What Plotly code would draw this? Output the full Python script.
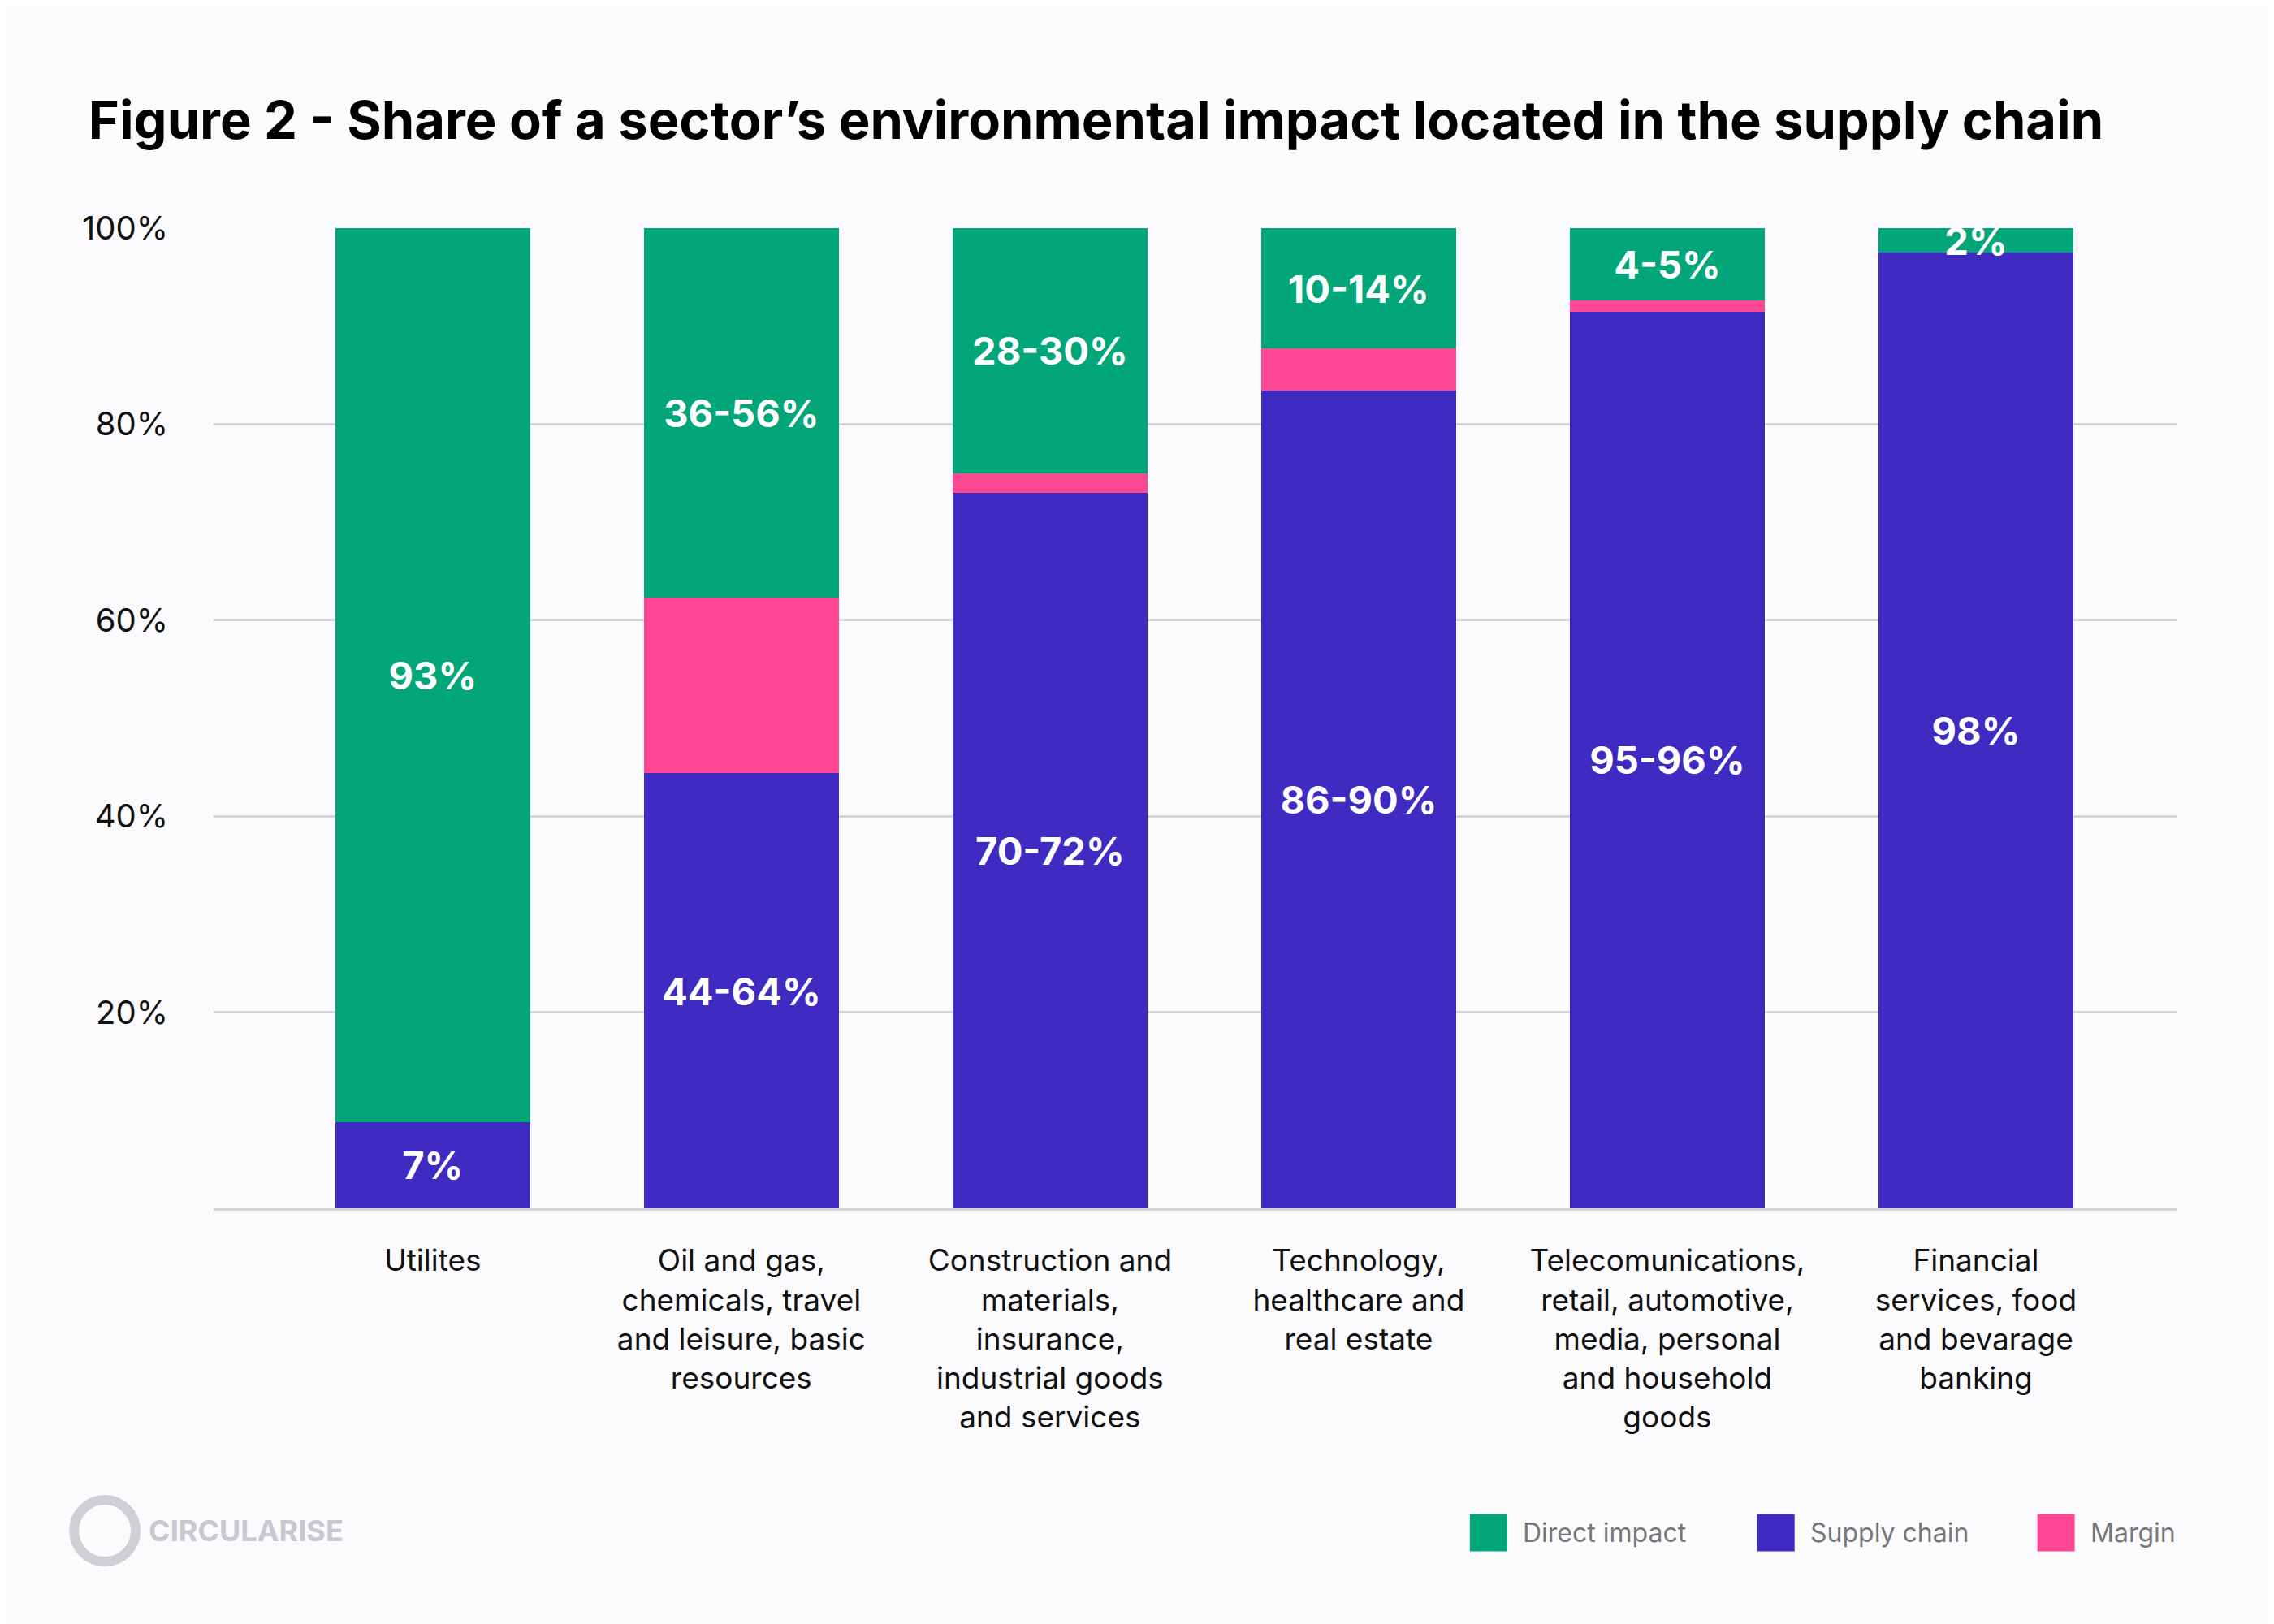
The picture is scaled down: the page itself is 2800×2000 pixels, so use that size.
import plotly.graph_objects as go

# ==========================================
# Data
# ==========================================

sectors = [
    "Utilites",
    "Oil and gas,<br>chemicals, travel<br>and leisure, basic<br>resources",
    "Construction and<br>materials,<br>insurance,<br>industrial goods<br>and services",
    "Technology,<br>healthcare and<br>real estate",
    "Telecomunications,<br>retail, automotive,<br>media, personal<br>and household<br>goods",
    "Financial<br>services, food<br>and bevarage<br>banking",
]
supply_chain = [8.8, 44.4, 73.0, 83.4, 91.5, 97.5]
margin = [0, 17.9, 2.0, 4.3, 1.1, 0]
direct_impact = [91.2, 37.7, 25.0, 12.3, 7.4, 2.5]

supply_labels = ["7%", "44-64%", "70-72%", "86-90%", "95-96%", "98%"]
direct_labels = ["93%", "36-56%", "28-30%", "10-14%", "4-5%", "2%"]

y_ticks = [20, 40, 60, 80, 100]
y_tick_labels = ["20%", "40%", "60%", "80%", "100%"]

GREEN = "#03A678"
BLUE = "#3F2BC1"
PINK = "#FF4893"
BG = "#FBFBFE"

xpos = list(range(len(sectors)))

# ==========================================
# Figure
# ==========================================

fig = go.Figure()

fig.add_bar(
    x=xpos, y=supply_chain, name="Supply chain", marker_color=BLUE,
    text=["<b>%s</b>" % t for t in supply_labels],
)
fig.add_bar(
    x=xpos, y=margin, name="Margin", marker_color=PINK,
)
fig.add_bar(
    x=xpos, y=direct_impact, name="Direct impact", marker_color=GREEN,
    text=["<b>%s</b>" % t for t in direct_labels],
)

fig.update_traces(
    width=0.63,
    textposition="inside",
    insidetextanchor="middle",
    marker_line_width=0,
    textfont=dict(color="white", size=47, family="Inter"),
    cliponaxis=False,
)

fig.update_layout(
    width=2800,
    height=2000,
    barmode="stack",
    paper_bgcolor=BG,
    plot_bgcolor=BG,
    font=dict(family="Inter", color="#111111"),
    margin=dict(l=255, r=128, t=273, b=520),
    title=dict(
        text="<b>Figure 2 - Share of a sector’s environmental impact located in the supply chain</b>",
        x=0.036, xanchor="left", y=0.93, yanchor="middle",
        font=dict(size=65, color="#000000"),
    ),
    uniformtext=dict(mode="show", minsize=47),
    showlegend=False,
)

fig.update_xaxes(
    tickmode="array", tickvals=xpos, ticktext=sectors,
    range=[-0.71, 5.65], showgrid=False, zeroline=False,
    showline=True, linecolor="#D5D5DA", linewidth=3,
    tickfont=dict(size=37, color="#111111"), ticks="",
    ticklabelstandoff=30,
)
fig.update_yaxes(
    range=[0, 100], tickvals=y_ticks, ticktext=y_tick_labels,
    showgrid=True, gridcolor="#D5D5DA", gridwidth=3, zeroline=False,
    tickfont=dict(size=40, color="#111111"), ticklabelstandoff=55,
)

# Custom legend (large square swatches)
legend_y = -0.331
for name, color, lx in [("Direct impact", GREEN, 0.6495),
                        ("Supply chain", BLUE, 0.7959),
                        ("Margin", PINK, 0.9386)]:
    fig.add_shape(
        type="rect", xref="paper", yref="paper",
        xsizemode="pixel", ysizemode="pixel",
        xanchor=lx, yanchor=legend_y,
        x0=-23, x1=23, y0=-23, y1=23,
        fillcolor=color, line_width=0,
    )
    fig.add_annotation(
        text=name, xref="paper", yref="paper",
        x=lx + 0.0166, y=legend_y, xanchor="left", yanchor="middle",
        showarrow=False, font=dict(size=32, color="#777777"),
    )

# Logo
fig.add_shape(
    type="circle", xref="paper", yref="paper",
    xsizemode="pixel", ysizemode="pixel",
    xanchor=-0.0554, yanchor=-0.329,
    x0=-38, x1=38, y0=-38, y1=38,
    line=dict(color="#CFCFD4", width=12),
)
fig.add_annotation(
    text="<b>CIRCULARISE</b>", xref="paper", yref="paper",
    x=-0.034, y=-0.329, xanchor="left", yanchor="middle",
    showarrow=False, font=dict(size=36, color="#C8C8CE"),
)

fig.write_html("out.html")
